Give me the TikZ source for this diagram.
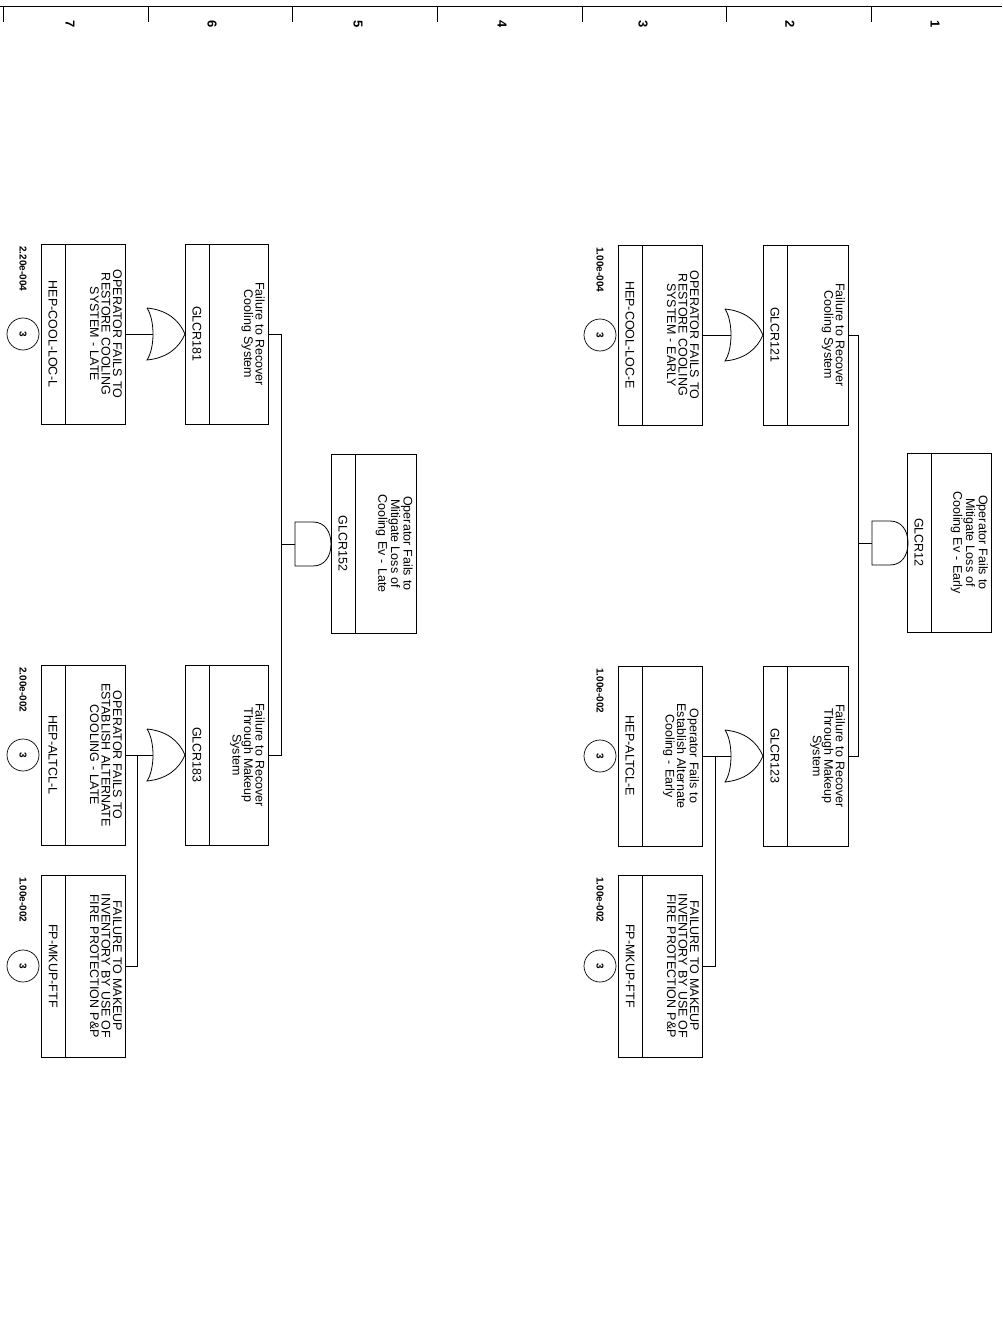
\documentclass[tikz,border=0pt]{standalone}
\usepackage{fontspec}
\setmainfont{Liberation Sans}
\tikzset{
  box/.style={draw, line width=0.8pt, rectangle, inner sep=0pt, outer sep=0pt},
  desc/.style={rotate=-90, anchor=north, align=center, text width=172pt, inner sep=1pt, font=\fontsize{12.5}{11.5}\selectfont},
  nm/.style={rotate=-90, inner sep=0pt, font=\fontsize{12.5}{12}\selectfont},
  prob/.style={rotate=-90, anchor=west, inner sep=0pt, font=\bfseries\fontsize{10}{10}\selectfont},
  evc/.style={draw, circle, minimum size=32pt, inner sep=0pt, line width=0.7pt, font=\bfseries\fontsize{10}{10}\selectfont},
  wire/.style={line width=0.7pt},
  gateline/.style={draw, line width=0.8pt},
  digit/.style={rotate=-90, inner sep=0pt, font=\bfseries\fontsize{13}{13}\selectfont}
}
% name, x1, y1, x2, y2, description, label
\newcommand{\evbox}[7]{%
  \node[box, minimum width={(#4-#2)*1pt}, minimum height={(#5-#3)*1pt}] (#1) at ({(#2+#4)/2},{(#3+#5)/2}) {};
  \draw[line width=0.8pt] ([xshift=24pt]#1.north west) -- ([xshift=24pt]#1.south west);
  \node[desc] (#1-d) at ([xshift=-2pt]#1.east) {#6};
  \node[nm] (#1-n) at ([xshift=12pt]#1.west) {#7};
}
% basic event decorations: name, x1, y1, yc, prob
\newcommand{\evbasic}[5]{%
  \node[evc] (#1-c) at ({#2-18},#4) {\rotatebox{-90}{3}};
  \node[prob] (#1-p) at ({#2-18},{#3+2}) {#5};
}
% AND gate: name, xb, yc
\newcommand{\andgate}[3]{%
  \draw[gateline] (#2,{#3-22}) -- ({#2+18},{#3-22}) .. controls ({#2+30},{#3-22}) and ({#2+36},{#3-12}) .. ({#2+36},#3)
     .. controls ({#2+36},{#3+12}) and ({#2+30},{#3+22}) .. ({#2+18},{#3+22}) -- (#2,{#3+22}) -- cycle;
  \coordinate (#1-in) at (#2,#3);
}
% OR gate: name, xb, yc
\newcommand{\orgate}[3]{%
  \draw[gateline] (#2,{#3-26}) .. controls ({#2+20},{#3-24}) and ({#2+32},{#3-14}) .. ({#2+38},#3)
     .. controls ({#2+32},{#3+14}) and ({#2+20},{#3+24}) .. (#2,{#3+26})
     .. controls ({#2+8},{#3+14}) and ({#2+8},{#3-14}) .. (#2,{#3-26});
  \coordinate (#1-in) at ({#2+6},#3);
}
\begin{document}
\begin{tikzpicture}[x=1pt,y=-1pt]
\useasboundingbox (0,0) rectangle (1002,1329);
\fill[white] (0,0) rectangle (1002,1329);

% ruler
\draw[line width=0.8pt] (0,6) coordinate (rl) -- (1002,6) coordinate (rr);
\foreach \x [count=\i] in {3,148,292,437,582,726,871} {
  \draw[line width=0.8pt] (\x,6) coordinate (tk\i) -- (\x,22);
}
\foreach \x/\d in {70/7,212/6,358/5,502/4,643/3,790/2,935/1} {
  \node[digit] (dig\d) at (\x,24) {\d};
}

% right tree
\evbox{a}{907}{453}{991}{632}{Operator Fails to\\Mitigate Loss of\\Cooling Ev - Early}{GLCR12}
\evbox{b}{763}{245}{848}{425}{Failure to Recover\\Cooling System}{GLCR121}
\evbox{c}{763}{666}{848}{846}{Failure to Recover\\Through Makeup\\System}{GLCR123}
\evbox{d}{618}{245}{702}{425}{OPERATOR FAILS TO\\RESTORE COOLING\\SYSTEM - EARLY}{HEP-COOL-LOC-E}
\evbox{e}{618}{666}{702}{846}{Operator Fails to\\Establish Alternate\\Cooling - Early}{HEP-ALTCL-E}
\evbox{f}{618}{875}{702}{1057}{FAILURE TO MAKEUP\\INVENTORY BY USE OF\\FIRE PROTECTION P\&P}{FP-MKUP-FTF}
\evbasic{d}{618}{245}{335}{1.00e-004}
\evbasic{e}{618}{666}{756}{1.00e-002}
\evbasic{f}{618}{875}{966}{1.00e-002}

\andgate{ga}{872}{543}
\orgate{gb}{725}{335}
\orgate{gc}{725}{756}
\coordinate (busA) at (858,543);
\coordinate (busC) at (715,756);
\draw[wire] (ga-in) -- (busA);
\draw[wire] (b.east) -| (busA);
\draw[wire] (c.east) -| (busA);
\draw[wire] (gb-in) -- (d.east);
\draw[wire] (gc-in) -- (e.east);
\draw[wire] (f.east) -| (busC);

% left tree
\evbox{g}{331}{454}{416}{633}{Operator Fails to\\Mitigate Loss of\\Cooling Ev - Late}{GLCR152}
\evbox{h}{185}{244}{268}{424}{Failure to Recover\\Cooling System}{GLCR181}
\evbox{i}{185}{665}{268}{845}{Failure to Recover\\Through Makeup\\System}{GLCR183}
\evbox{j}{41}{244}{125}{424}{OPERATOR FAILS TO\\RESTORE COOLING\\SYSTEM - LATE}{HEP-COOL-LOC-L}
\evbox{k}{41}{665}{125}{845}{OPERATOR FAILS TO\\ESTABLISH ALTERNATE\\COOLING - LATE}{HEP-ALTCL-L}
\evbox{l}{41}{875}{125}{1057}{FAILURE TO MAKEUP\\INVENTORY BY USE OF\\FIRE PROTECTION P\&P}{FP-MKUP-FTF}
\evbasic{j}{41}{244}{334}{2.20e-004}
\evbasic{k}{41}{665}{755}{2.00e-002}
\evbasic{l}{41}{875}{966}{1.00e-002}

\andgate{gg}{295}{544}
\orgate{gh}{147}{334}
\orgate{gi}{147}{755}
\coordinate (busG) at (281,544);
\coordinate (busI) at (137,755);
\draw[wire] (gg-in) -- (busG);
\draw[wire] (h.east) -| (busG);
\draw[wire] (i.east) -| (busG);
\draw[wire] (gh-in) -- (j.east);
\draw[wire] (gi-in) -- (k.east);
\draw[wire] (l.east) -| (busI);
\end{tikzpicture}
\end{document}
